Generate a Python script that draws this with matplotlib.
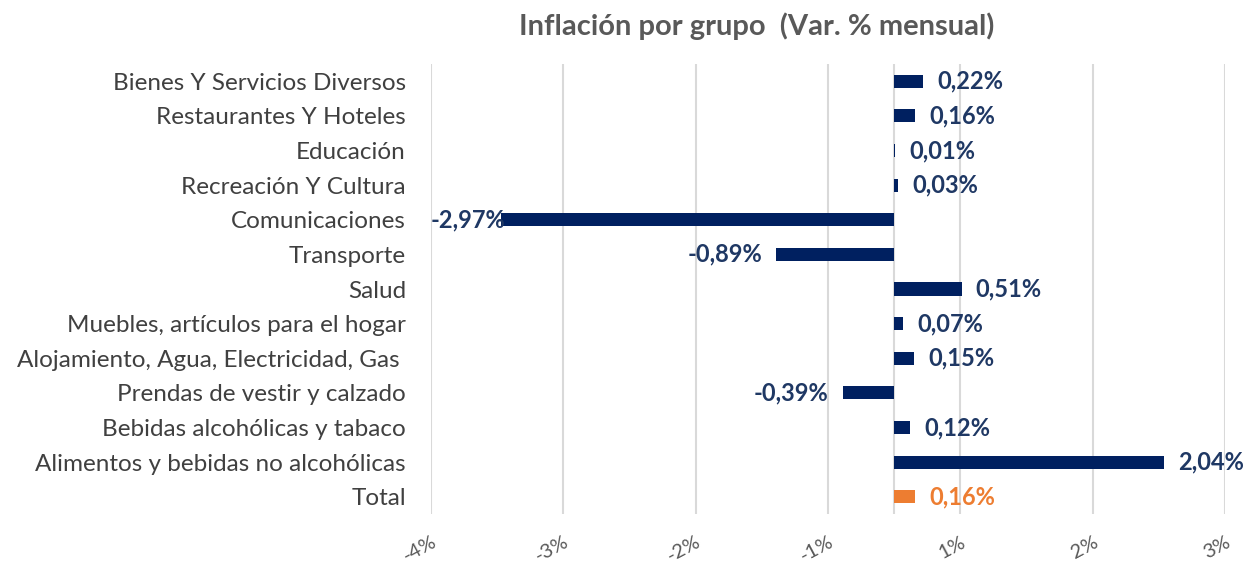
import matplotlib
matplotlib.use("Agg")
import matplotlib.pyplot as plt
from matplotlib import transforms
import numpy as np

categories = [
    "Bienes Y Servicios Diversos",
    "Restaurantes Y Hoteles",
    "Educación",
    "Recreación Y Cultura",
    "Comunicaciones",
    "Transporte",
    "Salud",
    "Muebles, artículos para el hogar",
    "Alojamiento, Agua, Electricidad, Gas ",
    "Prendas de vestir y calzado",
    "Bebidas alcohólicas y tabaco",
    "Alimentos y bebidas no alcohólicas",
    "Total",
]
values = [0.22, 0.16, 0.01, 0.03, -2.97, -0.89, 0.51, 0.07, 0.15, -0.39, 0.12, 2.04, 0.16]
tick_labels = ["-4%", "-3%", "-2%", "-1%", "1%", "2%", "3%"]

NAVY = "#002060"
ORANGE = "#ED7D31"
colors = [ORANGE if c == "Total" else NAVY for c in categories]
label_colors = ["#ED7D31" if c == "Total" else "#1F3864" for c in categories]

plt.rcParams["font.family"] = ["Lato", "DejaVu Sans"]

fig = plt.figure(figsize=(12.51, 5.63), dpi=100)
ax = fig.add_axes([431 / 1251, 1 - 514 / 563, (1225 - 431) / 1251, (514 - 64) / 563])

y = np.arange(len(categories))
ax.barh(y, values, height=0.38, color=colors, zorder=3)
xmin, xmax = -3.5, 2.5
ax.set_xlim(xmin, xmax)
ax.set_ylim(len(categories) - 0.5, -0.5)

ticks = np.arange(xmin, xmax + 0.01, 1.0)
ax.set_xticks(ticks)
ax.set_xticklabels(tick_labels, rotation=28, ha="right", va="top",
                   rotation_mode="anchor", fontsize=14.5, color="#595959")
ax.tick_params(axis="x", length=0, pad=14)
ax.grid(axis="x", color="#D9D9D9", linewidth=1.5, zorder=0)
ax.axvline(0, color="#D9D9D9", linewidth=1.5, zorder=1)

ax.set_yticks(y)
ax.set_yticklabels(categories, fontsize=17.5, color="#404040")
ax.tick_params(axis="y", length=0, pad=18)
for s in ax.spines.values():
    s.set_visible(False)

offset = transforms.ScaledTranslation(14 / 100, 0, fig.dpi_scale_trans)
neg_offset = transforms.ScaledTranslation(-14 / 100, 0, fig.dpi_scale_trans)
for yi, v, lc in zip(y, values, label_colors):
    txt = f"{v:.2f}%".replace(".", ",")
    if v >= 0:
        ax.text(v, yi, txt, ha="left", va="center", fontsize=17, fontweight="bold",
                color=lc, transform=ax.transData + offset, zorder=4)
    elif v < xmin + 0.7:
        ax.text(xmin, yi, txt, ha="left", va="center", fontsize=17, fontweight="bold",
                color=lc, zorder=4)
    else:
        ax.text(v, yi, txt, ha="right", va="center", fontsize=17, fontweight="bold",
                color=lc, transform=ax.transData + neg_offset, zorder=4)

fig.text(757 / 1251, 1 - 26 / 563, "Inflación por grupo  (Var. % mensual)",
         ha="center", va="center", fontsize=21, fontweight="bold", color="#595959")

fig.savefig("out.png", dpi=100)
